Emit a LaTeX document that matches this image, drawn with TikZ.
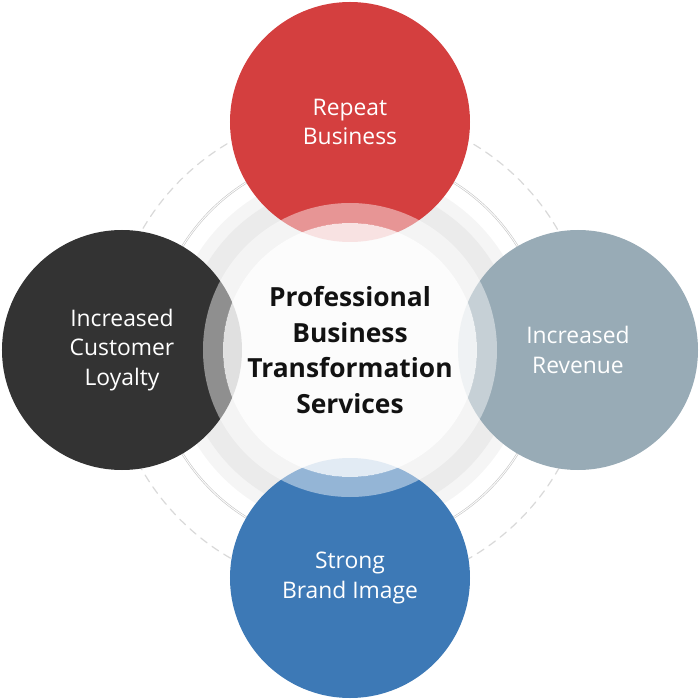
\documentclass[tikz,border=0pt]{standalone}
\usepackage{fontspec}
\setmainfont{Open Sans}
\usepackage{tikz}

\definecolor{repeatred}{HTML}{D43F3F}
\definecolor{loyalgray}{HTML}{333333}
\definecolor{revsteel}{HTML}{98ABB6}
\definecolor{brandblue}{HTML}{3D79B6}

\begin{document}
\begin{tikzpicture}[line width = 1pt,
                    bubble/.style = {circle, minimum size = 4.8cm, inner sep = 0pt, text = white,
                                     align = center, font = \fontsize{13}{16.8}\selectfont},
                    hub/.style = {align = center, text = black!93,
                                  font = \bfseries\fontsize{15}{20.2}\selectfont}]
  \useasboundingbox (-7, -7) rectangle (7, 7);

  % rings behind the circles
  \fill [black!4] (0, 0) circle (3.6);
  \fill [black!8] (0, 0) circle (3.34);
  \draw [black!22, line width = 0.35pt, double, double distance = 0.5pt] (0, 0) circle (3.94);
  \draw [black!15, line width = 0.7pt, line cap = round,
         dash pattern = on 4.5pt off 3.5pt] (0, 0) circle (4.8);

  \node [bubble, fill = repeatred] (P1) at (0, 4.56) {Repeat\\Business};
  \node [bubble, fill = revsteel] (P2) at (4.56, 0) {Increased\\Revenue};
  \node [bubble, fill = brandblue] (P3) at (0, -4.56) {Strong\\Brand Image};
  \node [bubble, fill = loyalgray] (P4) at (-4.56, 0) {Increased\\Customer\\Loyalty};

  % see-through hub
  \fill [white, opacity = 0.45, even odd rule] (0, 0) circle (2.94) (0, 0) circle (2.54);
  \fill [white, opacity = 0.85] (0, 0) circle (2.54);

  \node [hub] (H) at (0, 0) {Professional\\Business\\Transformation\\Services};
\end{tikzpicture}
\end{document}
